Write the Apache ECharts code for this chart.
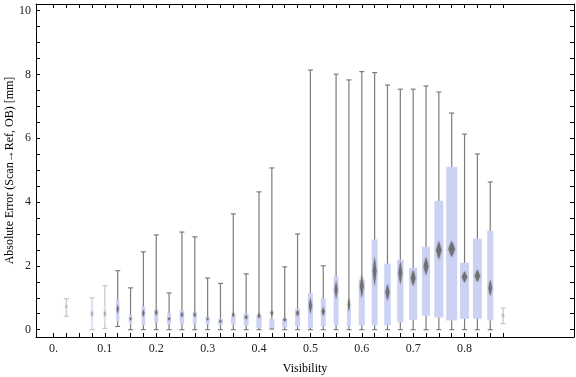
<!DOCTYPE html>
<html>
<head>
    <meta charset="UTF-8">
    <title>Absolute error vs visibility</title>
    <script src="https://cdn.jsdelivr.net/npm/echarts/dist/echarts.min.js"></script>
</head>
<body style="margin:0">
    <div id="chart" style="width: 576px;height:377px;"></div>
    <script type="text/javascript">
        var myChart = echarts.init(document.getElementById('chart'));

        // one box per visibility bin
        var visibility = [0.025, 0.075, 0.1, 0.125, 0.15, 0.175, 0.2, 0.225, 0.25, 0.275, 0.3, 0.325,
            0.35, 0.375, 0.4, 0.425, 0.45, 0.475, 0.5, 0.525, 0.55, 0.575, 0.6, 0.625,
            0.65, 0.675, 0.7, 0.725, 0.75, 0.775, 0.8, 0.825, 0.85, 0.875];
        var whiskerLow = [0.42, 0, 0.04, 0.10, 0, 0, 0, 0, 0, 0, 0, 0,
            0, 0, 0, 0.02, 0, 0, 0, 0, 0, 0, 0, 0,
            0, 0, 0, 0, 0, 0, 0, 0, 0, 0.19];
        var q1 = [0.62, 0.02, 0.26, 0.26, 0.17, 0.14, 0.23, 0.17, 0.16, 0.16, 0.16, 0.16,
            0.16, 0.13, 0.05, 0.05, 0.07, 0.10, 0.05, 0.10, 0.14, 0.10, 0.14, 0.14,
            0.14, 0.23, 0.31, 0.44, 0.38, 0.29, 0.34, 0.34, 0.29, 0.39];
        var q3 = [0.80, 0.95, 0.73, 0.94, 0.47, 0.73, 0.63, 0.52, 0.60, 0.56, 0.41, 0.34,
            0.42, 0.50, 0.41, 0.34, 0.34, 0.66, 1.15, 0.97, 1.67, 0.66, 1.57, 2.83,
            2.07, 2.19, 1.94, 2.60, 4.04, 5.11, 2.10, 2.85, 3.10, 0.50];
        var whiskerHigh = [0.97, 1.0, 1.38, 1.85, 1.31, 2.44, 2.97, 1.15, 3.06, 2.91, 1.62, 1.45,
            3.63, 1.75, 4.32, 5.07, 1.97, 3.0, 8.14, 2.0, 8.01, 7.83, 8.09, 8.06,
            7.67, 7.54, 7.54, 7.64, 7.45, 6.79, 6.13, 5.51, 4.63, 0.68];
        var mean = [0.72, 0.5, 0.5, 0.65, 0.34, 0.52, 0.54, 0.34, 0.47, 0.47, 0.34, 0.26,
            0.47, 0.39, 0.44, 0.52, 0.31, 0.52, 0.75, 0.57, 1.25, 0.78, 1.36, 1.83,
            1.17, 1.78, 1.62, 1.99, 2.49, 2.53, 1.65, 1.69, 1.31, 0.45];
        var meanCI = [0.05, 0.1, 0.1, 0.15, 0.06, 0.12, 0.1, 0.06, 0.08, 0.08, 0.05, 0.05,
            0.08, 0.07, 0.08, 0.08, 0.06, 0.1, 0.26, 0.14, 0.29, 0.21, 0.37, 0.47,
            0.26, 0.37, 0.26, 0.29, 0.29, 0.26, 0.18, 0.2, 0.26, 0.05];
        // relative box weight (box width scales with it)
        var boxWeight = [0.2, 0.2, 0.2, 0.3, 0.3, 0.33, 0.36, 0.36, 0.4, 0.36, 0.36, 0.42,
            0.42, 0.45, 0.48, 0.45, 0.45, 0.45, 0.45, 0.45, 0.45, 0.36, 0.55, 0.55,
            0.6, 0.57, 0.73, 0.73, 0.82, 1.0, 0.82, 0.82, 0.55, 0.23];

        // tick marks and labels
        var xTicks = [];
        for (var t = 0; t <= 35; t++) xTicks.push(+(t * 0.025).toFixed(3));
        var xLabelValues = [0, 0.1, 0.2, 0.3, 0.4, 0.5, 0.6, 0.7, 0.8];
        var xLabelText = ['0.', '0.1', '0.2', '0.3', '0.4', '0.5', '0.6', '0.7', '0.8'];
        var yTicks = [];
        for (var s = 0; s <= 20; s++) yTicks.push(s * 0.5);
        var yLabelValues = [0, 2, 4, 6, 8, 10];

        var boxData = visibility.map(function (v, i) {
            return [v, whiskerLow[i], q1[i], mean[i], q3[i], whiskerHigh[i], meanCI[i], boxWeight[i]];
        });

        var font = '"Liberation Serif", "DejaVu Serif", serif';
        var frameLine = { show: true, onZero: false, lineStyle: { color: '#000', width: 1 } };

        function renderBox(params, api) {
            var x = api.value(0);
            var lo = api.coord([x, api.value(1)]);
            var b1 = api.coord([x, api.value(2)]);
            var m = api.coord([x, api.value(3)]);
            var b3 = api.coord([x, api.value(4)]);
            var hi = api.coord([x, api.value(5)]);
            var ci = api.value(6);
            var w = api.value(7);
            var ciTop = api.coord([x, api.value(3) + ci]);
            var ciBot = api.coord([x, api.value(3) - ci]);
            var bw = Math.max(2, w * 11);
            var dw = Math.max(1.5, bw * 0.6);
            var cx = lo[0];
            var faint = w < 0.25;
            var wColor = faint ? '#c4c4c4' : '#7c7c7c';
            var cap = 2.5;
            return {
                type: 'group',
                children: [
                    { type: 'line', shape: { x1: cx, y1: lo[1], x2: cx, y2: hi[1] }, style: { stroke: wColor, lineWidth: 1.2 } },
                    { type: 'line', shape: { x1: cx - cap, y1: lo[1], x2: cx + cap, y2: lo[1] }, style: { stroke: wColor, lineWidth: 1.2 } },
                    { type: 'line', shape: { x1: cx - cap, y1: hi[1], x2: cx + cap, y2: hi[1] }, style: { stroke: wColor, lineWidth: 1.2 } },
                    { type: 'rect', shape: { x: cx - bw / 2, y: b3[1], width: bw, height: b1[1] - b3[1] }, style: { fill: faint ? '#dfe3f8' : '#ccd2f4' } },
                    {
                        type: 'polygon',
                        shape: { points: [[cx, ciTop[1]], [cx + dw / 2, m[1]], [cx, ciBot[1]], [cx - dw / 2, m[1]]] },
                        style: { fill: faint ? '#a8a8a8' : '#707070', shadowBlur: 2, shadowColor: 'rgba(110,110,110,0.8)' }
                    }
                ]
            };
        }

        var option = {
            animation: false,
            grid: { left: 36, right: 2, top: 4, bottom: 40, containLabel: false, outerBoundsMode: 'none' },
            xAxis: [
                {
                    type: 'value', position: 'bottom', min: -0.034, max: 1.013,
                    name: 'Visibility', nameLocation: 'middle', nameGap: 26,
                    nameTextStyle: { fontFamily: font, fontSize: 12, color: '#000' },
                    axisLine: frameLine,
                    axisTick: { show: true, inside: true, length: 4, customValues: xTicks, lineStyle: { color: '#000' } },
                    axisLabel: {
                        fontFamily: font, fontSize: 12, color: '#222', margin: 6,
                        customValues: xLabelValues,
                        formatter: function (v) {
                            var k = xLabelValues.findIndex(function (u) { return Math.abs(u - v) < 1e-6; });
                            return k >= 0 ? xLabelText[k] : '';
                        }
                    },
                    splitLine: { show: false }
                },
                {
                    type: 'value', position: 'top', min: -0.034, max: 1.013,
                    axisLine: frameLine,
                    axisTick: { show: true, inside: true, length: 4, customValues: xTicks, lineStyle: { color: '#000' } },
                    axisLabel: { show: false },
                    splitLine: { show: false }
                }
            ],
            yAxis: [
                {
                    type: 'value', position: 'left', min: -0.23, max: 10.21,
                    name: 'Absolute Error (Scan\u2192Ref, OB) [mm]', nameLocation: 'middle', nameGap: 20,
                    nameMoveOverlap: false,
                    nameTextStyle: { fontFamily: font, fontSize: 12, color: '#000' },
                    axisLine: frameLine,
                    axisTick: { show: true, inside: true, length: 4, customValues: yTicks, lineStyle: { color: '#000' } },
                    axisLabel: { fontFamily: font, fontSize: 12, color: '#222', margin: 5, customValues: yLabelValues },
                    splitLine: { show: false }
                },
                {
                    type: 'value', position: 'right', min: -0.23, max: 10.21,
                    axisLine: frameLine,
                    axisTick: { show: true, inside: true, length: 4, customValues: yTicks, lineStyle: { color: '#000' } },
                    axisLabel: { show: false },
                    splitLine: { show: false }
                }
            ],
            series: [
                {
                    type: 'custom',
                    renderItem: renderBox,
                    data: boxData,
                    encode: { x: 0, y: [1, 5] },
                    xAxisIndex: 0,
                    yAxisIndex: 0,
                    silent: true
                }
            ]
        };

        myChart.setOption(option);
    </script>
</body>
</html>
